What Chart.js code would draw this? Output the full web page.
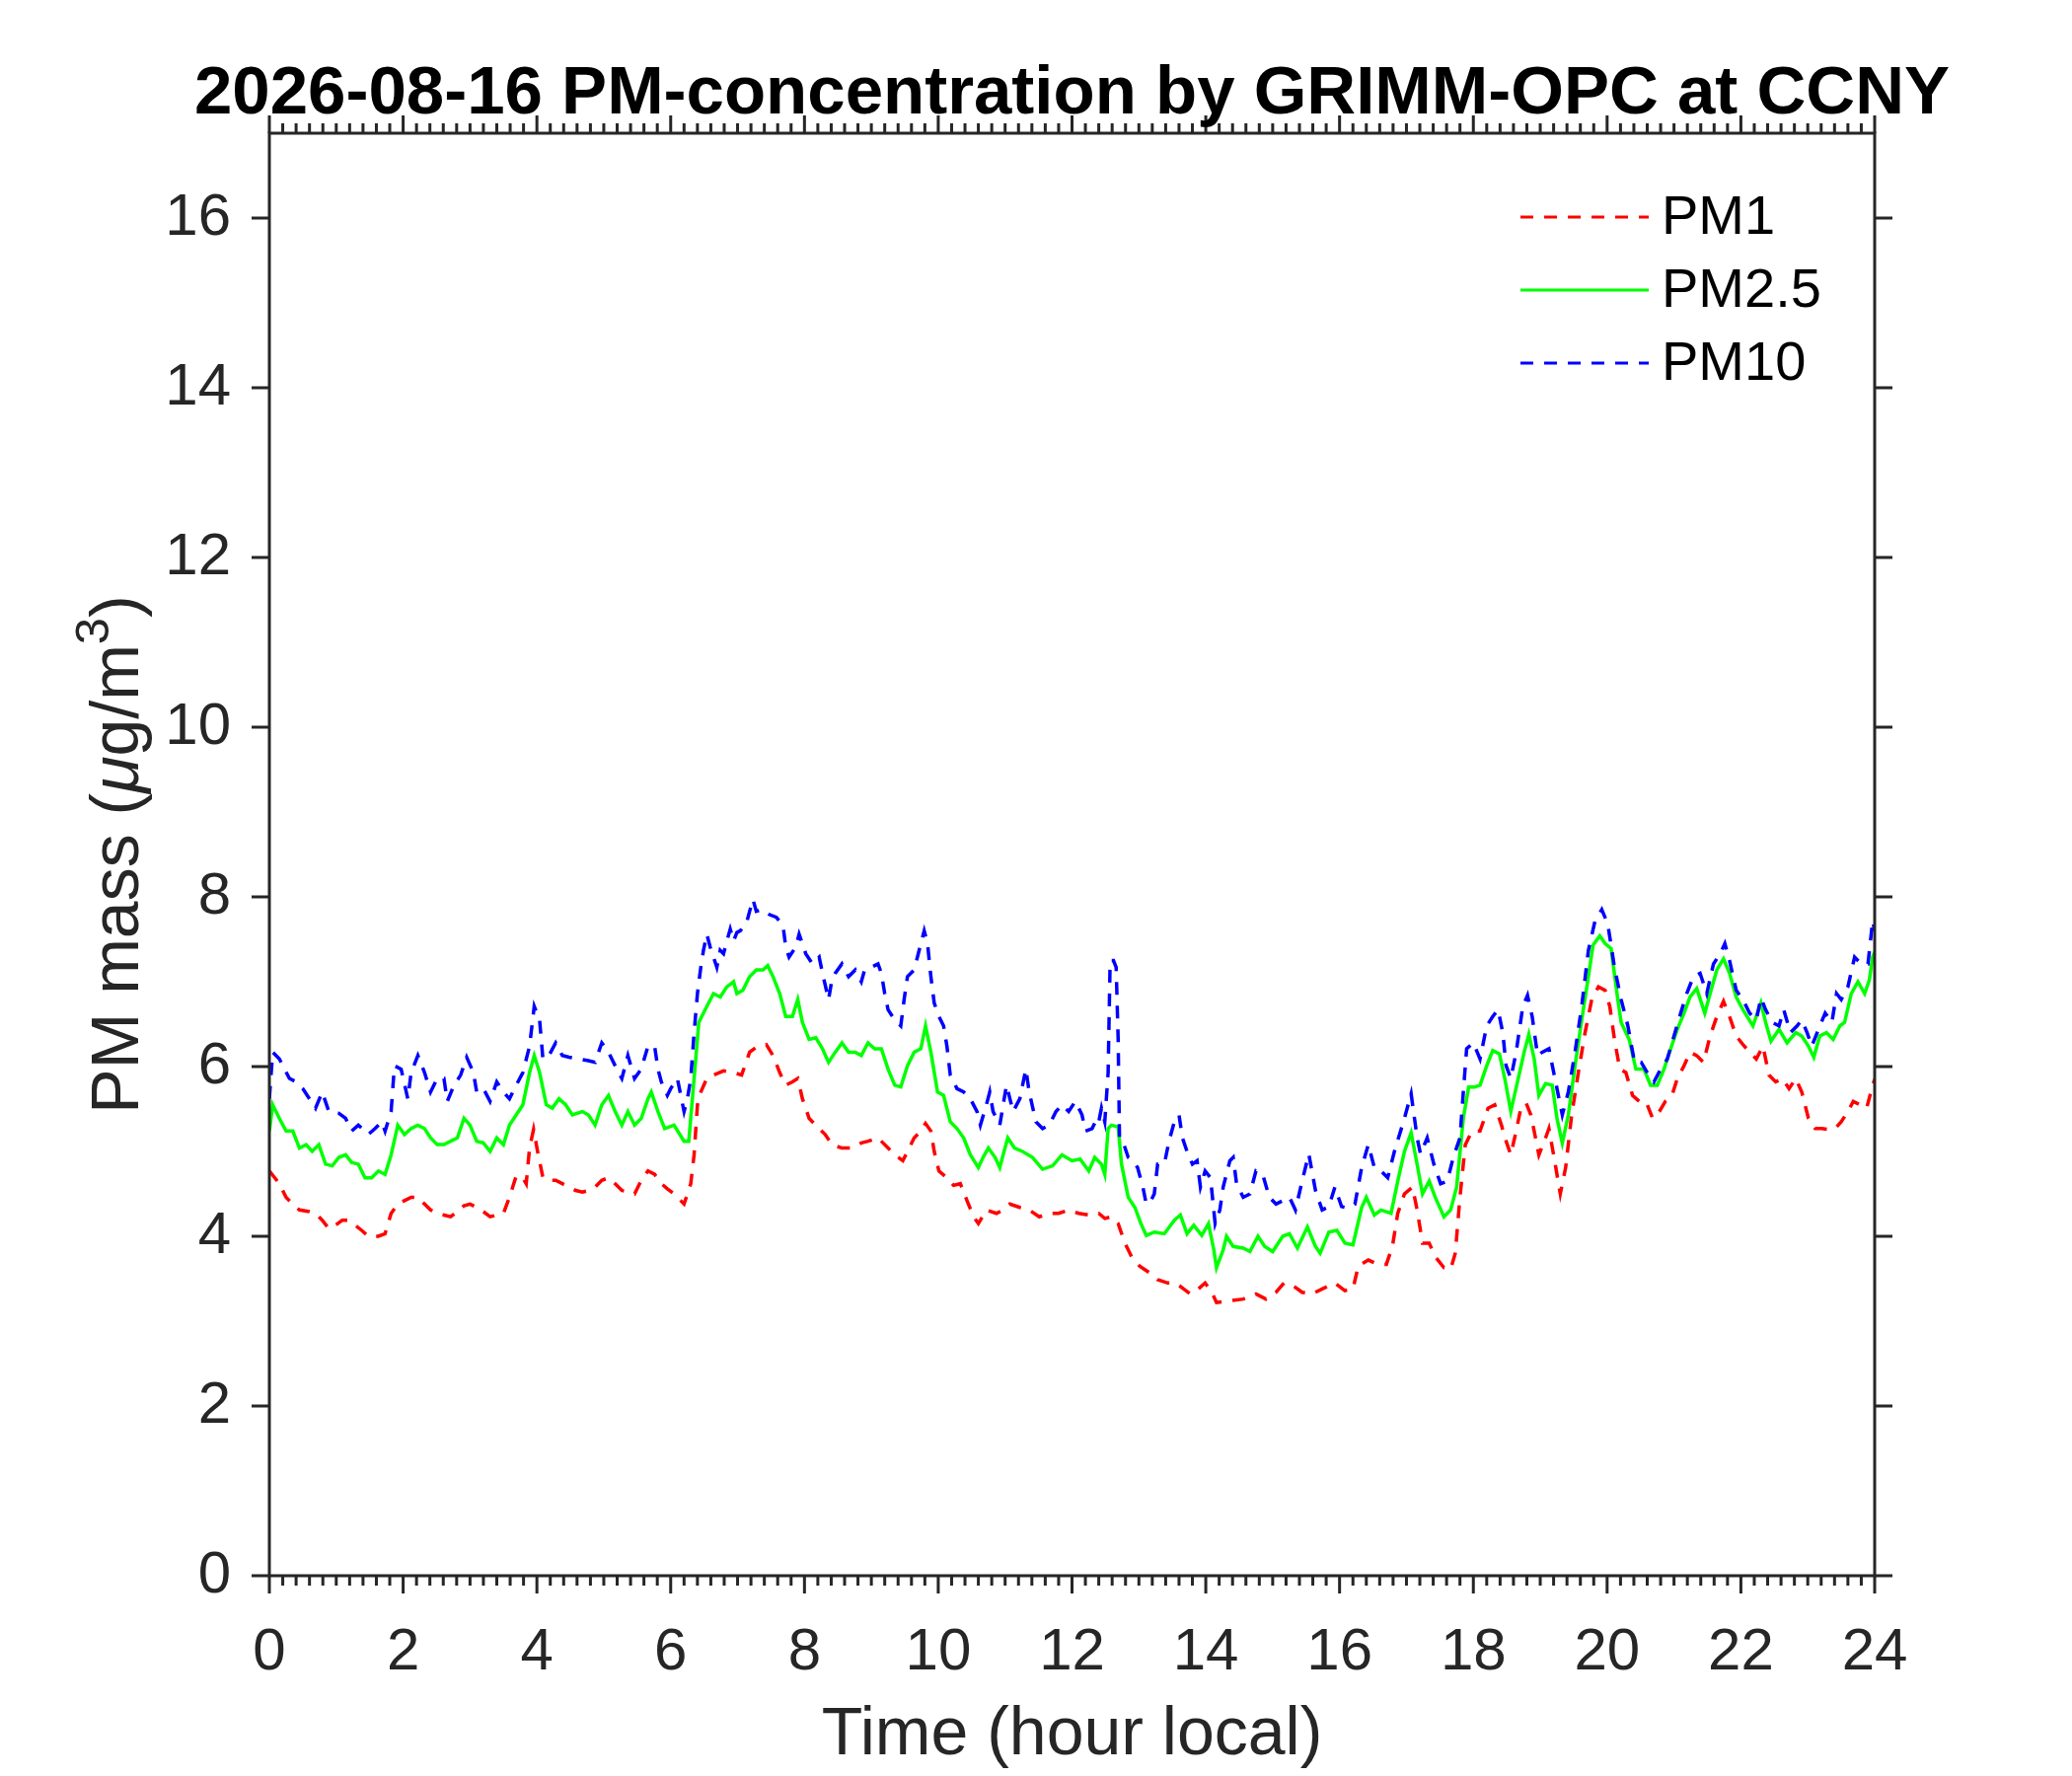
<!DOCTYPE html>
<html>
<head>
<meta charset="utf-8">
<script src="https://cdn.jsdelivr.net/npm/chart.js@4.4.1/dist/chart.umd.min.js"></script>
<style>
  html, body { margin: 0; padding: 0; background: #fff; }
  canvas { display: block; }
</style>
</head>
<body>
<canvas id="chart" width="2100" height="1800"></canvas>
<script>
/* =========================
   DATA (hours local, ug/m3)
========================= */
const chartTitle = "2026-08-16 PM-concentration by GRIMM-OPC at CCNY";
const seriesNames = ["PM1", "PM2.5", "PM10"];
const xTicks = [0, 2, 4, 6, 8, 10, 12, 14, 16, 18, 20, 22, 24];
const yTicks = [0, 2, 4, 6, 8, 10, 12, 14, 16];

const pm1Hours = [
  0.00, 0.15, 0.25, 0.35, 0.45, 0.60, 0.69, 0.79, 0.89, 0.99,
  1.09, 1.18, 1.28, 1.38, 1.48, 1.63, 1.73, 1.82, 1.92, 2.02,
  2.12, 2.22, 2.32, 2.41, 2.51, 2.61, 2.71, 2.81, 2.91, 3.00,
  3.10, 3.20, 3.30, 3.40, 3.50, 3.59, 3.69, 3.79, 3.84, 3.89,
  3.95, 4.01, 4.09, 4.18, 4.28, 4.38, 4.48, 4.58, 4.68, 4.77,
  4.87, 4.97, 5.07, 5.17, 5.27, 5.36, 5.46, 5.56, 5.66, 5.76,
  5.86, 5.95, 6.05, 6.15, 6.20, 6.30, 6.35, 6.40, 6.45, 6.54,
  6.64, 6.79, 6.94, 7.06, 7.18, 7.28, 7.43, 7.53, 7.63, 7.72,
  7.82, 7.90, 7.97, 8.07, 8.22, 8.31, 8.41, 8.56, 8.71, 8.85,
  8.95, 9.10, 9.25, 9.35, 9.47, 9.54, 9.64, 9.74, 9.81, 9.89,
  9.94, 10.01, 10.13, 10.23, 10.33, 10.43, 10.53, 10.60, 10.72, 10.87,
  10.97, 11.07, 11.22, 11.36, 11.51, 11.66, 11.80, 11.95, 12.10, 12.25,
  12.40, 12.49, 12.59, 12.69, 12.79, 12.89, 13.01, 13.16, 13.28, 13.43,
  13.55, 13.67, 13.77, 13.89, 13.99, 14.09, 14.16, 14.36, 14.56, 14.75,
  14.90, 15.05, 15.17, 15.32, 15.44, 15.59, 15.74, 15.93, 16.08, 16.20,
  16.28, 16.43, 16.57, 16.70, 16.79, 16.87, 16.97, 17.09, 17.16, 17.24,
  17.34, 17.43, 17.56, 17.66, 17.73, 17.80, 17.88, 17.98, 18.10, 18.22,
  18.32, 18.42, 18.49, 18.56, 18.64, 18.71, 18.79, 18.86, 18.93, 18.98,
  19.08, 19.13, 19.20, 19.30, 19.38, 19.47, 19.57, 19.67, 19.77, 19.87,
  19.97, 20.04, 20.11, 20.19, 20.28, 20.38, 20.48, 20.58, 20.68, 20.78,
  20.87, 20.97, 21.05, 21.15, 21.24, 21.34, 21.44, 21.54, 21.64, 21.74,
  21.83, 21.93, 22.03, 22.13, 22.23, 22.33, 22.42, 22.52, 22.62, 22.72,
  22.82, 22.91, 23.01, 23.11, 23.21, 23.31, 23.41, 23.50, 23.60, 23.68,
  23.78, 23.88, 23.97, 24.00
];
const pm1Values = [
  4.77, 4.62, 4.46, 4.38, 4.31, 4.29, 4.27, 4.19, 4.09, 4.13,
  4.19, 4.19, 4.13, 4.07, 4.00, 4.00, 4.03, 4.27, 4.38, 4.42,
  4.46, 4.46, 4.38, 4.31, 4.27, 4.25, 4.23, 4.29, 4.36, 4.38,
  4.34, 4.29, 4.23, 4.25, 4.27, 4.46, 4.71, 4.69, 4.62, 5.04,
  5.26, 5.00, 4.69, 4.66, 4.66, 4.62, 4.58, 4.54, 4.52, 4.54,
  4.58, 4.66, 4.69, 4.62, 4.54, 4.52, 4.50, 4.66, 4.77, 4.73,
  4.62, 4.56, 4.50, 4.42, 4.38, 4.62, 4.96, 5.55, 5.70, 5.86,
  5.90, 5.95, 5.93, 5.90, 6.17, 6.23, 6.26, 6.13, 5.93, 5.78,
  5.82, 5.86, 5.62, 5.39, 5.27, 5.20, 5.08, 5.04, 5.04, 5.10,
  5.12, 5.16, 5.04, 4.96, 4.89, 5.00, 5.16, 5.24, 5.33, 5.24,
  5.00, 4.77, 4.69, 4.60, 4.62, 4.42, 4.23, 4.15, 4.31, 4.27,
  4.31, 4.38, 4.34, 4.31, 4.23, 4.27, 4.27, 4.31, 4.27, 4.25,
  4.27, 4.21, 4.23, 4.15, 3.92, 3.76, 3.65, 3.57, 3.49, 3.45,
  3.45, 3.38, 3.32, 3.38, 3.45, 3.34, 3.22, 3.24, 3.26, 3.32,
  3.26, 3.34, 3.45, 3.41, 3.34, 3.32, 3.38, 3.45, 3.36, 3.38,
  3.65, 3.72, 3.67, 3.67, 3.88, 4.27, 4.50, 4.58, 4.31, 3.92,
  3.92, 3.76, 3.63, 3.61, 3.80, 4.46, 5.08, 5.24, 5.24, 5.51,
  5.55, 5.31, 5.12, 4.96, 5.24, 5.51, 5.57, 5.43, 5.16, 4.96,
  5.16, 5.27, 4.96, 4.50, 4.81, 5.43, 5.93, 6.40, 6.79, 6.94,
  6.90, 6.71, 6.32, 5.97, 5.93, 5.66, 5.59, 5.59, 5.39, 5.47,
  5.59, 5.66, 5.86, 6.01, 6.17, 6.13, 6.05, 6.36, 6.59, 6.77,
  6.59, 6.36, 6.26, 6.17, 6.09, 6.24, 5.90, 5.82, 5.86, 5.74,
  5.86, 5.70, 5.39, 5.27, 5.27, 5.26, 5.27, 5.35, 5.47, 5.59,
  5.55, 5.51, 5.78, 5.85
];

const pm25Hours = [
  0.00, 0.05, 0.15, 0.25, 0.35, 0.45, 0.55, 0.64, 0.74, 0.84,
  0.94, 1.04, 1.14, 1.23, 1.33, 1.43, 1.53, 1.63, 1.73, 1.82,
  1.92, 2.02, 2.12, 2.22, 2.32, 2.41, 2.51, 2.61, 2.71, 2.81,
  2.91, 3.00, 3.10, 3.20, 3.30, 3.40, 3.50, 3.59, 3.69, 3.79,
  3.89, 3.96, 4.04, 4.14, 4.23, 4.33, 4.43, 4.53, 4.68, 4.77,
  4.87, 4.97, 5.07, 5.17, 5.27, 5.36, 5.46, 5.56, 5.66, 5.71,
  5.81, 5.91, 6.05, 6.20, 6.27, 6.35, 6.42, 6.49, 6.54, 6.64,
  6.74, 6.84, 6.94, 6.99, 7.08, 7.18, 7.28, 7.38, 7.45, 7.53,
  7.63, 7.72, 7.82, 7.90, 7.97, 8.07, 8.17, 8.27, 8.36, 8.46,
  8.56, 8.66, 8.76, 8.85, 8.95, 9.05, 9.15, 9.25, 9.35, 9.44,
  9.54, 9.64, 9.74, 9.81, 9.89, 9.99, 10.08, 10.18, 10.28, 10.38,
  10.48, 10.60, 10.67, 10.75, 10.85, 10.92, 10.97, 11.04, 11.14, 11.26,
  11.41, 11.56, 11.71, 11.85, 12.00, 12.12, 12.25, 12.34, 12.44, 12.49,
  12.54, 12.59, 12.69, 12.74, 12.84, 12.94, 13.03, 13.11, 13.23, 13.38,
  13.53, 13.62, 13.72, 13.82, 13.94, 14.04, 14.12, 14.16, 14.26, 14.31,
  14.41, 14.56, 14.66, 14.78, 14.88, 15.00, 15.15, 15.25, 15.37, 15.52,
  15.64, 15.71, 15.84, 15.96, 16.08, 16.20, 16.33, 16.40, 16.52, 16.62,
  16.77, 16.87, 16.97, 17.07, 17.14, 17.24, 17.34, 17.43, 17.56, 17.66,
  17.75, 17.85, 17.93, 18.02, 18.10, 18.20, 18.29, 18.39, 18.47, 18.56,
  18.66, 18.76, 18.83, 18.91, 18.98, 19.08, 19.18, 19.25, 19.33, 19.42,
  19.52, 19.62, 19.72, 19.79, 19.89, 19.97, 20.06, 20.16, 20.21, 20.33,
  20.43, 20.55, 20.65, 20.75, 20.85, 20.95, 21.05, 21.15, 21.24, 21.34,
  21.46, 21.54, 21.64, 21.74, 21.83, 21.93, 22.03, 22.18, 22.30, 22.37,
  22.45, 22.57, 22.69, 22.82, 22.91, 23.01, 23.09, 23.18, 23.28, 23.38,
  23.48, 23.55, 23.65, 23.75, 23.85, 23.92, 23.97, 24.00
];
const pm25Values = [
  5.24, 5.55, 5.39, 5.24, 5.24, 5.04, 5.08, 5.00, 5.08, 4.85,
  4.83, 4.93, 4.96, 4.87, 4.85, 4.69, 4.69, 4.77, 4.73, 4.96,
  5.31, 5.20, 5.27, 5.31, 5.27, 5.16, 5.08, 5.08, 5.12, 5.16,
  5.39, 5.31, 5.12, 5.10, 5.00, 5.16, 5.08, 5.31, 5.43, 5.55,
  5.93, 6.13, 5.93, 5.55, 5.51, 5.62, 5.55, 5.43, 5.47, 5.43,
  5.31, 5.55, 5.66, 5.47, 5.31, 5.47, 5.31, 5.39, 5.62, 5.70,
  5.47, 5.27, 5.31, 5.12, 5.12, 5.86, 6.52, 6.63, 6.71, 6.86,
  6.82, 6.94, 7.00, 6.86, 6.90, 7.06, 7.14, 7.14, 7.19, 7.06,
  6.86, 6.59, 6.59, 6.79, 6.52, 6.32, 6.34, 6.21, 6.05, 6.17,
  6.28, 6.17, 6.17, 6.13, 6.28, 6.21, 6.21, 5.97, 5.78, 5.76,
  6.01, 6.17, 6.21, 6.48, 6.17, 5.70, 5.66, 5.35, 5.27, 5.16,
  4.96, 4.81, 4.93, 5.04, 4.93, 4.81, 4.96, 5.16, 5.04, 5.00,
  4.93, 4.79, 4.83, 4.96, 4.89, 4.91, 4.77, 4.93, 4.85, 4.73,
  5.27, 5.31, 5.29, 4.85, 4.46, 4.34, 4.15, 4.01, 4.05, 4.03,
  4.19, 4.25, 4.03, 4.13, 4.01, 4.15, 3.84, 3.63, 3.84, 4.00,
  3.88, 3.86, 3.82, 4.00, 3.88, 3.82, 4.00, 4.03, 3.86, 4.11,
  3.88, 3.80, 4.05, 4.07, 3.92, 3.90, 4.34, 4.46, 4.25, 4.31,
  4.27, 4.65, 5.00, 5.22, 4.93, 4.50, 4.65, 4.46, 4.23, 4.31,
  4.58, 5.39, 5.76, 5.76, 5.78, 6.01, 6.19, 6.15, 5.86, 5.47,
  5.82, 6.17, 6.38, 6.09, 5.66, 5.80, 5.78, 5.39, 5.10, 5.43,
  6.01, 6.55, 7.06, 7.43, 7.54, 7.45, 7.39, 6.79, 6.52, 6.32,
  5.97, 5.97, 5.78, 5.78, 5.97, 6.21, 6.44, 6.63, 6.82, 6.92,
  6.63, 6.86, 7.14, 7.27, 7.10, 6.82, 6.67, 6.48, 6.75, 6.52,
  6.30, 6.44, 6.28, 6.40, 6.36, 6.24, 6.11, 6.36, 6.40, 6.32,
  6.48, 6.52, 6.86, 7.00, 6.86, 7.02, 7.29, 7.35
];

const pm10Hours = [
  0.00, 0.05, 0.15, 0.20, 0.30, 0.40, 0.50, 0.60, 0.69, 0.79,
  0.89, 1.04, 1.14, 1.23, 1.33, 1.43, 1.48, 1.58, 1.68, 1.73,
  1.82, 1.87, 1.97, 2.07, 2.12, 2.22, 2.32, 2.41, 2.51, 2.61,
  2.66, 2.76, 2.86, 2.95, 3.05, 3.10, 3.20, 3.30, 3.40, 3.50,
  3.59, 3.69, 3.79, 3.89, 3.96, 4.04, 4.09, 4.18, 4.28, 4.38,
  4.48, 4.63, 4.77, 4.87, 4.97, 5.07, 5.17, 5.27, 5.36, 5.46,
  5.56, 5.66, 5.76, 5.81, 5.86, 5.95, 6.00, 6.10, 6.20, 6.25,
  6.30, 6.35, 6.40, 6.45, 6.49, 6.54, 6.59, 6.64, 6.69, 6.74,
  6.79, 6.84, 6.89, 6.94, 6.99, 7.04, 7.08, 7.13, 7.18, 7.23,
  7.28, 7.38, 7.48, 7.58, 7.68, 7.72, 7.77, 7.87, 7.92, 8.02,
  8.12, 8.22, 8.27, 8.36, 8.41, 8.46, 8.56, 8.66, 8.76, 8.85,
  8.90, 9.00, 9.10, 9.15, 9.20, 9.25, 9.35, 9.44, 9.49, 9.54,
  9.64, 9.74, 9.79, 9.84, 9.89, 9.94, 10.01, 10.08, 10.13, 10.18,
  10.28, 10.38, 10.48, 10.58, 10.63, 10.72, 10.77, 10.82, 10.92, 11.02,
  11.12, 11.22, 11.31, 11.36, 11.46, 11.56, 11.66, 11.76, 11.85, 11.95,
  12.05, 12.15, 12.20, 12.30, 12.35, 12.39, 12.44, 12.49, 12.54, 12.57,
  12.62, 12.66, 12.69, 12.71, 12.76, 12.84, 12.91, 12.98, 13.06, 13.11,
  13.18, 13.23, 13.28, 13.38, 13.45, 13.53, 13.60, 13.65, 13.72, 13.80,
  13.87, 13.92, 13.99, 14.07, 14.14, 14.21, 14.26, 14.36, 14.41, 14.46,
  14.56, 14.66, 14.75, 14.85, 14.95, 15.05, 15.15, 15.25, 15.34, 15.44,
  15.54, 15.64, 15.74, 15.84, 15.93, 16.03, 16.13, 16.23, 16.33, 16.43,
  16.52, 16.62, 16.72, 16.82, 16.97, 17.07, 17.16, 17.21, 17.31, 17.41,
  17.51, 17.61, 17.70, 17.80, 17.85, 17.90, 18.00, 18.10, 18.20, 18.29,
  18.37, 18.44, 18.49, 18.56, 18.64, 18.74, 18.81, 18.88, 18.96, 19.03,
  19.13, 19.23, 19.33, 19.42, 19.52, 19.62, 19.72, 19.82, 19.92, 20.01,
  20.11, 20.21, 20.31, 20.41, 20.51, 20.60, 20.70, 20.80, 20.90, 21.00,
  21.10, 21.19, 21.29, 21.39, 21.49, 21.59, 21.69, 21.76, 21.83, 21.93,
  22.03, 22.13, 22.23, 22.30, 22.37, 22.47, 22.57, 22.64, 22.74, 22.84,
  22.91, 22.99, 23.06, 23.16, 23.26, 23.36, 23.43, 23.50, 23.60, 23.70,
  23.80, 23.90, 23.97, 24.00
];
const pm10Values = [
  5.62, 6.17, 6.09, 6.01, 5.86, 5.82, 5.74, 5.62, 5.51, 5.70,
  5.47, 5.45, 5.39, 5.24, 5.31, 5.24, 5.20, 5.27, 5.35, 5.24,
  5.47, 6.01, 5.97, 5.62, 5.93, 6.13, 5.93, 5.70, 5.86, 5.86,
  5.59, 5.78, 5.90, 6.11, 5.93, 5.70, 5.74, 5.59, 5.82, 5.70,
  5.62, 5.78, 5.93, 6.24, 6.71, 6.55, 6.09, 6.13, 6.28, 6.13,
  6.11, 6.09, 6.07, 6.05, 6.28, 6.17, 6.01, 5.86, 6.13, 5.86,
  5.97, 6.24, 6.24, 5.97, 5.82, 5.66, 5.74, 5.86, 5.47, 5.62,
  5.86, 6.40, 6.86, 7.17, 7.37, 7.56, 7.41, 7.29, 7.17, 7.37,
  7.33, 7.48, 7.62, 7.48, 7.58, 7.60, 7.64, 7.68, 7.83, 7.97,
  7.83, 7.85, 7.79, 7.76, 7.66, 7.41, 7.29, 7.41, 7.56, 7.33,
  7.21, 7.29, 7.10, 6.79, 7.02, 7.10, 7.21, 7.06, 7.14, 7.00,
  7.14, 7.17, 7.21, 7.10, 6.86, 6.67, 6.55, 6.48, 6.79, 7.06,
  7.14, 7.45, 7.60, 7.45, 7.06, 6.75, 6.59, 6.48, 6.24, 5.90,
  5.74, 5.70, 5.62, 5.47, 5.31, 5.55, 5.70, 5.47, 5.31, 5.78,
  5.47, 5.62, 5.97, 5.70, 5.35, 5.27, 5.31, 5.47, 5.55, 5.47,
  5.59, 5.43, 5.24, 5.27, 5.35, 5.31, 5.51, 5.35, 5.93, 7.25,
  7.25, 7.17, 6.32, 5.16, 5.12, 4.93, 4.89, 4.81, 4.58, 4.38,
  4.42, 4.50, 4.85, 4.85, 5.12, 5.35, 5.43, 5.16, 5.00, 4.85,
  4.89, 4.58, 4.77, 4.69, 4.15, 4.31, 4.58, 4.89, 4.93, 4.62,
  4.46, 4.50, 4.77, 4.73, 4.46, 4.38, 4.42, 4.46, 4.31, 4.65,
  4.97, 4.54, 4.31, 4.35, 4.58, 4.35, 4.33, 4.38, 4.81, 5.08,
  4.81, 4.77, 4.69, 5.00, 5.39, 5.68, 5.16, 4.97, 5.16, 4.85,
  4.62, 4.65, 4.93, 5.16, 5.70, 6.21, 6.28, 6.09, 6.48, 6.59,
  6.67, 6.40, 6.01, 5.86, 6.17, 6.71, 6.84, 6.59, 6.13, 6.17,
  6.21, 5.82, 5.43, 5.70, 6.17, 6.71, 7.37, 7.72, 7.85, 7.68,
  7.17, 6.79, 6.48, 6.05, 6.05, 5.93, 5.82, 5.97, 6.09, 6.36,
  6.63, 6.86, 7.06, 7.10, 6.86, 7.21, 7.33, 7.45, 7.25, 6.90,
  6.79, 6.63, 6.55, 6.81, 6.67, 6.52, 6.48, 6.67, 6.40, 6.48,
  6.55, 6.40, 6.24, 6.44, 6.63, 6.52, 6.86, 6.79, 6.94, 7.29,
  7.21, 7.21, 7.72, 7.60
];

/* =========================
   STYLE
========================= */
const AXIS_COLOR = "#262626";
const FONT = "'Liberation Sans', Arial, Helvetica, sans-serif";
const MINOR_STEP = 0.2;

function toPoints(hours, values) {
  return hours.map((h, i) => ({ x: h, y: values[i] }));
}

/* =========================
   Y LABEL  PM mass (μg/m^3)
========================= */
function drawYLabel(ctx, cx, cy) {
  const size = 68;
  const parts = [
    { text: "PM mass (", font: `${size}px ${FONT}`, rise: 0 },
    { text: "μ", font: `italic ${size}px ${FONT}`, rise: 0 },
    { text: "g/m", font: `${size}px ${FONT}`, rise: 0 },
    { text: "3", font: `${Math.round(size * 0.72)}px ${FONT}`, rise: 30 },
    { text: ")", font: `${size}px ${FONT}`, rise: 0 },
  ];

  let total = 0;
  parts.forEach((p) => {
    ctx.font = p.font;
    p.w = ctx.measureText(p.text).width;
    total += p.w;
  });

  ctx.save();
  ctx.translate(cx, cy);
  ctx.rotate(-Math.PI / 2);
  ctx.fillStyle = AXIS_COLOR;
  ctx.textAlign = "left";
  ctx.textBaseline = "alphabetic";
  let x = -total / 2;
  parts.forEach((p) => {
    ctx.font = p.font;
    ctx.fillText(p.text, x, -p.rise);
    x += p.w;
  });
  ctx.restore();
}

/* =========================
   FRAME / TICKS / LEGEND
========================= */
const matlabFrame = {
  id: "matlabFrame",
  afterDatasetsDraw(chart) {
    const { ctx, chartArea: a, scales } = chart;
    const major = 18;
    const minor = 10;

    ctx.save();
    ctx.strokeStyle = AXIS_COLOR;
    ctx.lineWidth = 3;
    ctx.lineCap = "butt";

    ctx.strokeRect(a.left, a.top, a.right - a.left, a.bottom - a.top);

    ctx.beginPath();
    yTicks.forEach((v) => {
      const y = scales.y.getPixelForValue(v);
      ctx.moveTo(a.left, y);
      ctx.lineTo(a.left - major, y);
      ctx.moveTo(a.right, y);
      ctx.lineTo(a.right + major, y);
    });
    xTicks.forEach((v) => {
      const x = scales.x.getPixelForValue(v);
      ctx.moveTo(x, a.bottom);
      ctx.lineTo(x, a.bottom + major);
      ctx.moveTo(x, a.top);
      ctx.lineTo(x, a.top - major);
    });
    for (let k = 1; k < 24 / MINOR_STEP; k++) {
      if (k % 10 === 0) continue;
      const x = scales.x.getPixelForValue(k * MINOR_STEP);
      ctx.moveTo(x, a.bottom);
      ctx.lineTo(x, a.bottom + minor);
      ctx.moveTo(x, a.top);
      ctx.lineTo(x, a.top - minor);
    }
    ctx.stroke();

    // legend inside the axes, top right
    const rowY = [220, 294, 368];
    chart.data.datasets.forEach((ds, i) => {
      const y = rowY[i];
      ctx.beginPath();
      ctx.strokeStyle = ds.borderColor;
      ctx.lineWidth = 3;
      ctx.setLineDash(ds.borderDash || []);
      ctx.moveTo(1541, y);
      ctx.lineTo(1671, y);
      ctx.stroke();
      ctx.setLineDash([]);

      ctx.fillStyle = "#000";
      ctx.font = `56px ${FONT}`;
      ctx.textAlign = "left";
      ctx.textBaseline = "middle";
      ctx.fillText(ds.label, 1684, y + 2);
    });

    ctx.restore();
  },
  afterDraw(chart) {
    const { ctx, chartArea: a } = chart;
    ctx.save();
    ctx.fillStyle = "#000";
    ctx.font = `bold 69px ${FONT}`;
    ctx.textAlign = "center";
    ctx.textBaseline = "alphabetic";
    ctx.fillText(chartTitle, (a.left + a.right) / 2, 115);
    ctx.restore();

    drawYLabel(ctx, 140, (a.top + a.bottom) / 2);
  },
};

/* =========================
   CHART
========================= */
const ctx = document.getElementById("chart").getContext("2d");

new Chart(ctx, {
  type: "line",
  data: {
    datasets: [
      {
        label: seriesNames[0],
        data: toPoints(pm1Hours, pm1Values),
        borderColor: "#ff0000",
        borderWidth: 3.5,
        borderDash: [13, 11],
        order: 2,
      },
      {
        label: seriesNames[1],
        data: toPoints(pm25Hours, pm25Values),
        borderColor: "#00ff00",
        borderWidth: 3.5,
        order: 1,
      },
      {
        label: seriesNames[2],
        data: toPoints(pm10Hours, pm10Values),
        borderColor: "#0000ff",
        borderWidth: 3.5,
        borderDash: [13, 11],
        order: 0,
      },
    ],
  },
  options: {
    responsive: false,
    devicePixelRatio: 1,
    animation: false,
    layout: {
      padding: { left: 0, right: 200, top: 135, bottom: 0 },
    },
    elements: {
      point: { radius: 0 },
      line: { tension: 0, fill: false },
    },
    plugins: {
      legend: { display: false },
      tooltip: { enabled: false },
      title: { display: false },
    },
    scales: {
      x: {
        type: "linear",
        position: "bottom",
        min: 0,
        max: 24,
        afterFit: (s) => {
          s.height = 203;
        },
        afterBuildTicks: (s) => {
          s.ticks = xTicks.map((v) => ({ value: v }));
        },
        ticks: {
          color: AXIS_COLOR,
          font: { family: FONT, size: 60 },
          padding: 42,
          maxRotation: 0,
          autoSkip: false,
        },
        grid: { display: false, drawTicks: false },
        border: { display: false },
        title: {
          display: true,
          text: "Time (hour local)",
          color: AXIS_COLOR,
          font: { family: FONT, size: 68 },
          padding: { top: 0, bottom: 0 },
        },
      },
      y: {
        type: "linear",
        min: 0,
        max: 17,
        afterFit: (s) => {
          s.width = 273;
        },
        afterBuildTicks: (s) => {
          s.ticks = yTicks.map((v) => ({ value: v }));
        },
        ticks: {
          color: AXIS_COLOR,
          font: { family: FONT, size: 60 },
          padding: 39,
        },
        grid: { display: false, drawTicks: false },
        border: { display: false },
        title: { display: false },
      },
    },
  },
  plugins: [matlabFrame],
});
</script>
</body>
</html>
